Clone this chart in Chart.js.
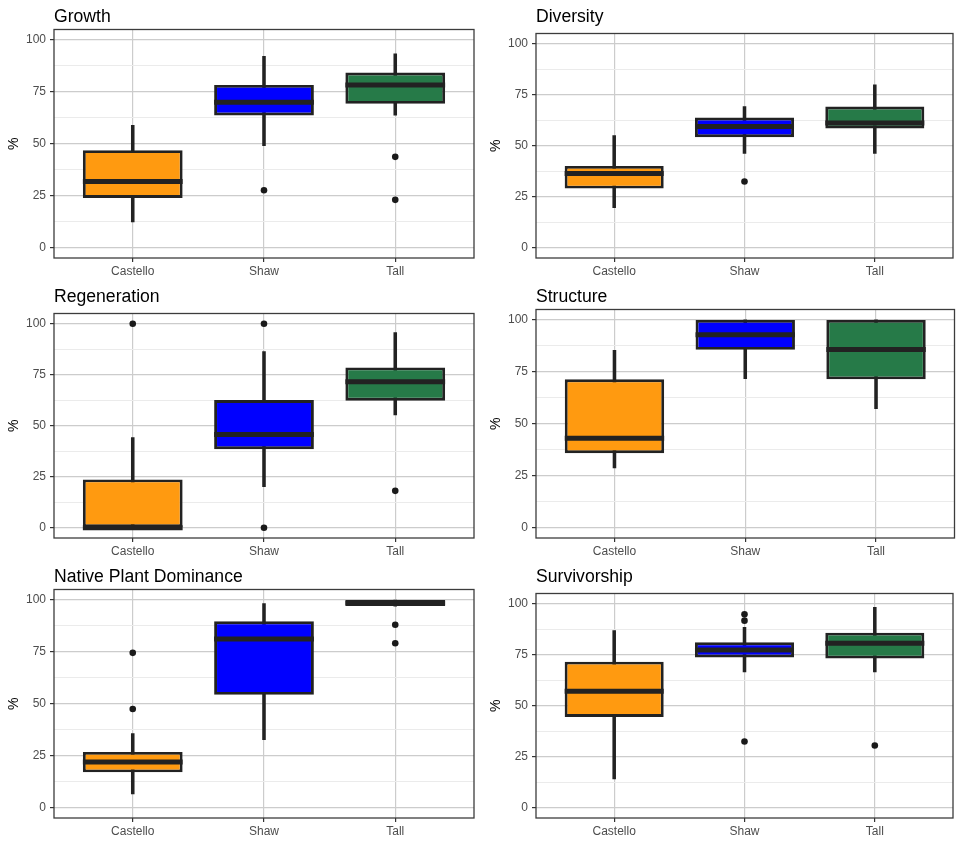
<!DOCTYPE html>
<html><head><meta charset="utf-8">
<script src="https://cdn.jsdelivr.net/npm/chart.js@4.4.1/dist/chart.umd.min.js"></script>
<style>
html,body{margin:0;padding:0;background:#fff;}
#wrap{position:relative;width:957px;height:842px;overflow:hidden;background:#fff;}
.panel{position:absolute;}
</style></head><body><div id="wrap"></div>
<script>
// ---------------- DATA ----------------
const categories = ['Castello', 'Shaw', 'Tall'];
const yTickValues = [0, 25, 50, 75, 100];
const yMinorValues = [12.5, 37.5, 62.5, 87.5];
const yAxisLabel = '%';
const panelTitles = ['Growth', 'Diversity', 'Regeneration', 'Structure', 'Native Plant Dominance', 'Survivorship'];

// per category: [lower whisker, Q1, median, Q3, upper whisker]
const growthBoxes = [[12.4, 23.9, 31.8, 46.9, 58.9], [49.1, 63.6, 70.0, 78.3, 92.1], [63.7, 69.2, 78.3, 84.3, 93.3]];
const growthOutliers = [[], [27.6], [43.7, 23.0]];

const diversityBoxes = [[19.7, 29.0, 36.4, 40.1, 55.0], [46.3, 54.2, 59.4, 63.8, 69.2], [46.3, 58.4, 61.2, 69.2, 79.9]];
const diversityOutliers = [[], [32.5], []];

const regenerationBoxes = [[0, 0, 0, 23.7, 44.2], [20.2, 38.5, 45.7, 62.6, 86.3], [55.3, 62.3, 71.5, 78.6, 95.6]];
const regenerationOutliers = [[100], [100, 0], [18.1]];

const structureBoxes = [[28.7, 35.8, 43.0, 71.4, 85.4], [71.7, 85.6, 92.9, 100, 100], [57.3, 71.4, 85.7, 100, 100]];
const structureOutliers = [[], [], []];

const nativeBoxes = [[6.6, 17.0, 22.0, 26.8, 35.6], [32.7, 54.3, 81.2, 89.7, 98.2], [97.0, 97.0, 98.5, 99.9, 99.9]];
const nativeOutliers = [[74.5, 47.5], [], [88.0, 79.1]];

const survivorshipBoxes = [[14.2, 44.5, 57.1, 71.6, 86.8], [66.6, 73.7, 77.3, 81.1, 88.4], [66.6, 73.1, 80.6, 85.8, 98.2]];
const survivorshipOutliers = [[], [94.8, 91.7, 32.5], [30.5]];

const panelBoxes = [growthBoxes, diversityBoxes, regenerationBoxes, structureBoxes, nativeBoxes, survivorshipBoxes];
const panelOutliers = [growthOutliers, diversityOutliers, regenerationOutliers, structureOutliers, nativeOutliers, survivorshipOutliers];

// ---------------- STYLE ----------------
const fillColors = ['#FF9A10', '#0000FF', '#267A48'];
const lineColor = '#222222';
const FONT = "'Liberation Sans', Arial, Helvetica, sans-serif";
const BOX_FRAC = 0.76;
Chart.defaults.font.family = FONT;

const framePlugin = {
  id: 'frameAndTitle',
  afterDraw(chart, args, opts) {
    const {ctx, chartArea: a} = chart;
    ctx.save();
    ctx.strokeStyle = '#3c3c3c';
    ctx.lineWidth = 1.3;
    ctx.strokeRect(a.left, a.top, a.right - a.left, a.bottom - a.top);
    ctx.fillStyle = '#000';
    ctx.font = '17.6px ' + FONT;
    ctx.textBaseline = 'alphabetic';
    ctx.textAlign = 'left';
    ctx.fillText(opts.text, a.left, 21.5);
    ctx.restore();
  }
};

const wrap = document.getElementById('wrap');

panelTitles.forEach((title, p) => {
  const col = p % 2, row = Math.floor(p / 2);
  const left = col ? 478 : 0;
  const W = col ? 479 : 478;
  const top = row * 280;
  const H = row === 2 ? 282 : 280;
  const padL = col ? 4 : 0;
  const axisW = 54;
  const chartRight = col ? 476.5 : 474;
  const chartTop = /[gjpqy]/.test(title) ? 33.5 : 29.5;
  const chartBottom = 258;

  const div = document.createElement('div');
  div.className = 'panel';
  div.style.left = left + 'px'; div.style.top = top + 'px';
  div.style.width = W + 'px'; div.style.height = H + 'px';
  const cv = document.createElement('canvas');
  cv.width = W; cv.height = H;
  cv.style.width = W + 'px'; cv.style.height = H + 'px';
  div.appendChild(cv);
  wrap.appendChild(div);

  const boxes = panelBoxes[p];
  const outs = panelOutliers[p];
  const outlierPts = [];
  outs.forEach((arr, i) => arr.forEach(v => outlierPts.push({x: i + 1, y: v})));

  new Chart(cv, {
    type: 'bar',
    data: {
      datasets: [
        {
          type: 'bar', label: 'whisker', order: 3, grouped: false,
          data: boxes.map((b, i) => ({x: i + 1, y: [b[0], b[4]]})),
          backgroundColor: lineColor, barThickness: 2.9, borderWidth: 0
        },
        {
          type: 'bar', label: 'box', order: 2, grouped: false,
          data: boxes.map((b, i) => ({x: i + 1, y: [b[1], b[3]]})),
          backgroundColor: fillColors, borderColor: lineColor, borderWidth: 2.9,
          borderSkipped: false, barPercentage: BOX_FRAC, categoryPercentage: 1
        },
        {
          type: 'scatter', label: 'median', order: 1,
          data: boxes.map((b, i) => ({x: i + 1, y: b[2]})),
          pointStyle: 'line', pointBorderColor: lineColor, pointBorderWidth: 5,
          pointRadius: (ctx) => {
            const xs = ctx.chart.scales.x;
            return Math.abs(xs.getPixelForValue(2) - xs.getPixelForValue(1)) * BOX_FRAC / 2;
          },
          showLine: false
        },
        {
          type: 'scatter', label: 'outliers', order: 0,
          data: outlierPts,
          pointStyle: 'circle', pointRadius: 3.3, pointBackgroundColor: '#1a1a1a',
          pointBorderWidth: 0, showLine: false
        }
      ]
    },
    options: {
      responsive: false, maintainAspectRatio: false, animation: false, events: [],
      layout: {padding: {left: padL, right: W - chartRight, top: chartTop, bottom: 0}},
      plugins: {legend: {display: false}, tooltip: {enabled: false}, title: {display: false},
        frameAndTitle: {text: title}},
      scales: {
        x: {
          type: 'linear', min: 0.4, max: 3.6, offset: false,
          afterBuildTicks: (axis) => { axis.ticks = categories.map((c, i) => ({value: i + 1})); },
          afterFit: (axis) => { axis.height = H - chartBottom; },
          ticks: {callback: (v) => categories[Math.round(v) - 1], color: '#4d4d4d', font: {size: 12},
            padding: 2, autoSkip: false, maxRotation: 0},
          grid: {offset: false, color: '#cccccc', lineWidth: 1.2, tickLength: 4, tickColor: '#333', tickWidth: 1.2},
          border: {display: false}
        },
        y: {
          type: 'linear', min: -5, max: 105,
          afterBuildTicks: (axis) => {
            axis.ticks = yTickValues.concat(yMinorValues).sort((a, b) => a - b).map(v => ({value: v}));
          },
          afterFit: (axis) => { axis.width = axisW; },
          ticks: {callback: (v) => yTickValues.includes(v) ? String(v) : '', color: '#4d4d4d',
            font: {size: 12}, padding: 4, autoSkip: false},
          grid: {
            color: (c) => yTickValues.includes(c.tick && c.tick.value) ? '#cccccc' : '#ebebeb',
            lineWidth: (c) => yTickValues.includes(c.tick && c.tick.value) ? 1.2 : 1,
            tickLength: 4,
            tickColor: (c) => yTickValues.includes(c.tick && c.tick.value) ? '#333' : 'rgba(0,0,0,0)',
            tickWidth: 1.2
          },
          border: {display: false},
          title: {display: true, text: yAxisLabel, color: '#000', font: {size: 14}, padding: {top: 5.5, bottom: 0}}
        }
      }
    },
    plugins: [framePlugin]
  });
});
</script></body></html>
